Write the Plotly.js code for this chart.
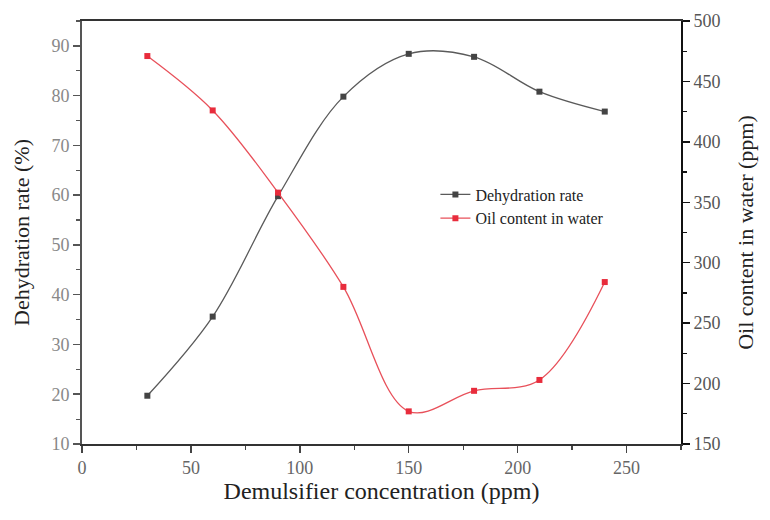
<!DOCTYPE html>
<html>
<head>
<meta charset="utf-8">
<script src="https://cdn.plot.ly/plotly-3.0.1.min.js"></script>
<style>
  html, body { margin: 0; padding: 0; background: #fff; }
  #chart { width: 770px; height: 520px; }
</style>
</head>
<body>
<div id="chart"></div>
<script>
// Demulsifier dosage (ppm)
const concentration = [30, 60, 90, 120, 150, 180, 210, 240];
// Dehydration rate (%) — left axis
const dehydrationRate = [19.7, 35.6, 59.8, 79.8, 88.4, 87.8, 80.8, 76.8];
// Oil content in separated water (ppm) — right axis
const oilContent = [471, 426, 358, 280, 177, 194, 203, 284];

const xTicks = [0, 50, 100, 150, 200, 250];
const yLeftTicks = [10, 20, 30, 40, 50, 60, 70, 80, 90];
const yRightTicks = [150, 200, 250, 300, 350, 400, 450, 500];

const serif = "Liberation Serif, Times New Roman, serif";

const traces = [
  {
    x: concentration, y: dehydrationRate,
    name: "Dehydration rate",
    type: "scatter", mode: "lines+markers",
    line: { color: "#5a5a5a", width: 1.3, shape: "spline", smoothing: 1 },
    marker: { symbol: "square", size: 6, color: "#444" },
    yaxis: "y"
  },
  {
    x: concentration, y: oilContent,
    name: "Oil content in water",
    type: "scatter", mode: "lines+markers",
    line: { color: "#e8505a", width: 1.3, shape: "spline", smoothing: 1 },
    marker: { symbol: "square", size: 6, color: "#e82c3c" },
    yaxis: "y2"
  }
];

const layout = {
  width: 770, height: 520,
  margin: { l: 82, r: 89, t: 21, b: 76 },
  paper_bgcolor: "#fff", plot_bgcolor: "#fff",
  showlegend: true,
  legend: {
    x: 0.59, y: 0.63, xanchor: "left", yanchor: "top",
    bgcolor: "rgba(0,0,0,0)",
    font: { family: serif, size: 16, color: "#222" },
    tracegroupgap: 0
  },
  xaxis: {
    range: [0, 275],
    tickvals: xTicks,
    ticks: "outside", ticklen: 7, tickwidth: 1.5, tickcolor: "#444",
    minor: { dtick: 25, ticks: "outside", ticklen: 4, tickcolor: "#444", tickwidth: 1.2 },
    showline: true, linecolor: "#333", linewidth: 1.8,
    mirror: true,
    showgrid: false, zeroline: false,
    tickfont: { family: serif, size: 18, color: "#666" },
    title: { text: "Demulsifier concentration (ppm)", font: { family: serif, size: 24, color: "#222" }, standoff: 5 }
  },
  yaxis: {
    range: [10, 95],
    tickvals: yLeftTicks,
    ticks: "outside", ticklen: 7, tickwidth: 1.5, tickcolor: "#555",
    minor: { dtick: 5, ticks: "outside", ticklen: 4, tickcolor: "#555", tickwidth: 1.2 },
    showline: true, linecolor: "#555", linewidth: 1.8,
    showgrid: false, zeroline: false,
    tickfont: { family: serif, size: 18, color: "#888" },
    title: { text: "Dehydration rate (%)", font: { family: serif, size: 22, color: "#222" }, standoff: 16 }
  },
  yaxis2: {
    overlaying: "y", side: "right",
    range: [150, 500],
    tickvals: yRightTicks,
    ticks: "outside", ticklen: 7, tickwidth: 1.5, tickcolor: "#111",
    minor: { dtick: 25, ticks: "outside", ticklen: 4, tickcolor: "#111", tickwidth: 1.2 },
    showline: true, linecolor: "#111", linewidth: 2,
    showgrid: false, zeroline: false,
    tickfont: { family: serif, size: 18, color: "#555" },
    title: { text: "Oil content in water (ppm)", font: { family: serif, size: 22, color: "#222" }, standoff: 18 }
  }
};

Plotly.newPlot("chart", traces, layout, { displayModeBar: false, staticPlot: true });
</script>
</body>
</html>
